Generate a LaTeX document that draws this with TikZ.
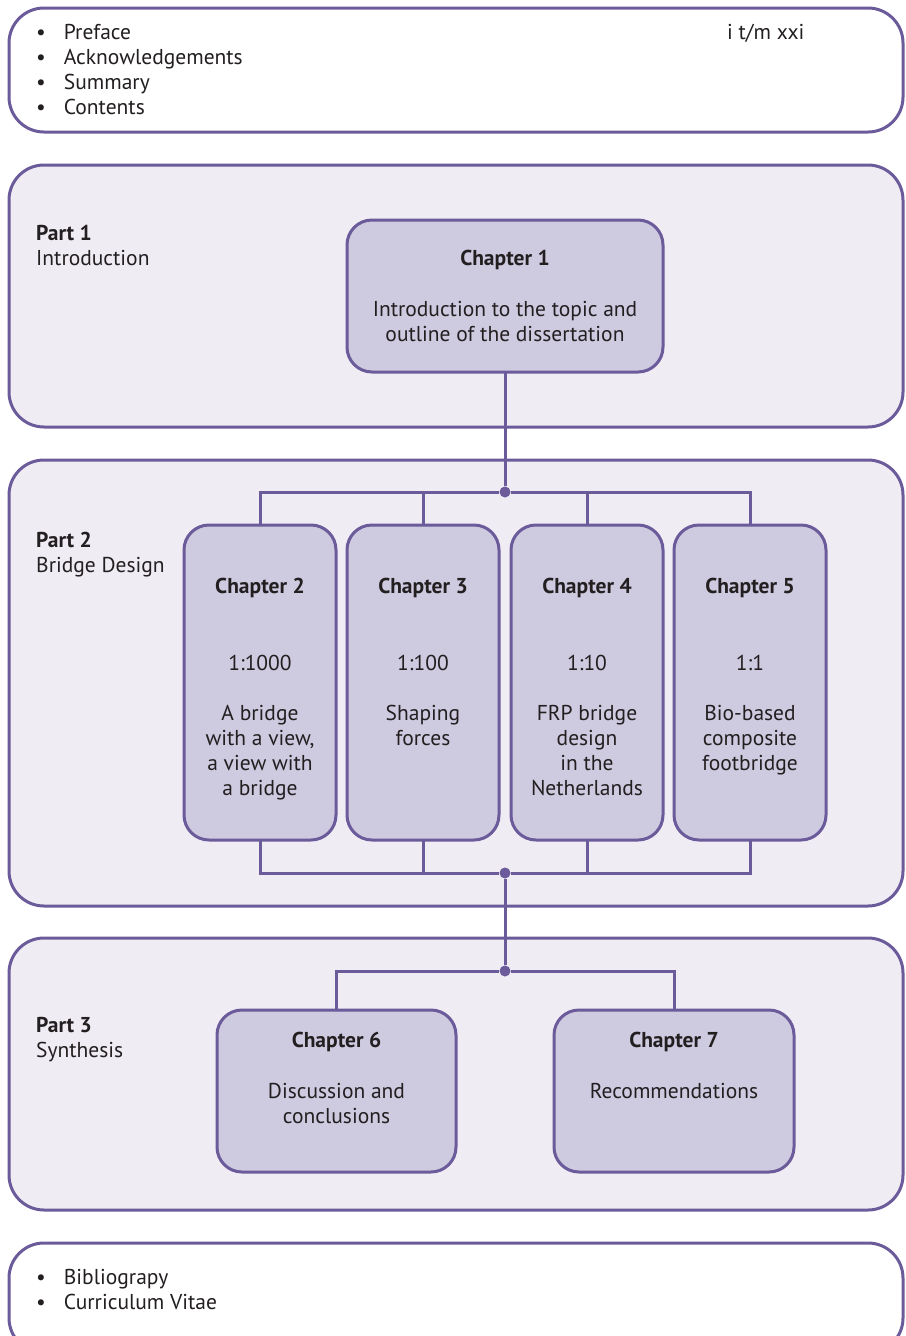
\documentclass[tikz,border=0pt]{standalone}
\usepackage{fontspec}
\setmainfont{PT Sans}
\usetikzlibrary{positioning}
\definecolor{linepurple}{HTML}{6B5B9A}
\definecolor{partfill}{HTML}{EFECF4}
\definecolor{chapfill}{HTML}{CECAE0}
\definecolor{textgray}{HTML}{231F20}
\tikzset{
  part box/.style={rectangle, draw=linepurple, fill=partfill, line width=3pt, rounded corners=35pt, minimum width=894pt, outer sep=0pt, anchor=north west},
  list box/.style={part box, fill=white},
  chapter box/.style={rectangle, draw=linepurple, fill=chapfill, line width=3pt, rounded corners=25pt, outer sep=0pt, anchor=north west},
  link/.style={draw=linepurple, line width=3pt},
  junction/.style={circle, fill=linepurple, minimum size=11pt, inner sep=0pt},
  chapter title/.style={font=\fontsize{21.5}{25}\selectfont\bfseries, text=textgray},
  body text/.style={text=textgray, align=center, inner sep=0pt, anchor=north},
  side text/.style={text=textgray, align=left, inner sep=0pt}
}

\begin{document}
\begin{tikzpicture}[x=1pt, y=-1pt, font=\fontsize{21.5}{25}\selectfont]
    \useasboundingbox (0,0) rectangle (905,1336);
    % The boxes of the parts
    \node[list box, minimum height=124pt] (front) at (9,8) {};
    \node[part box, minimum height=262pt] (part1) at (9,165) {};
    \node[part box, minimum height=446pt] (part2) at (9,460) {};
    \node[part box, minimum height=272pt] (part3) at (9,938) {};
    \node[list box, minimum height=110pt] (back) at (9,1243) {};

    % Front and back matter
    \node[side text, anchor=north west] (front list) at (36,22) {%
      \begin{tabular}{@{}l@{\hspace{18pt}}l@{}}
        \textbullet & Preface\\
        \textbullet & Acknowledgements\\
        \textbullet & Summary\\
        \textbullet & Contents
      \end{tabular}};
    \node[side text, anchor=base west] (page range) at (727,39) {i t/m xxi};
    \node[side text, anchor=north west] (back list) at (36,1267) {%
      \begin{tabular}{@{}l@{\hspace{18pt}}l@{}}
        \textbullet & Bibliograpy\\
        \textbullet & Curriculum Vitae
      \end{tabular}};

    % Part labels
    \node[side text, anchor=north west] (part1 label) at (36,225) {\textbf{Part 1}\\Introduction};
    \node[side text, anchor=north west] (part2 label) at (36,532) {\textbf{Part 2}\\Bridge Design};
    \node[side text, anchor=north west] (part3 label) at (36,1017) {\textbf{Part 3}\\Synthesis};

    % Junctions
    \node[junction] (j1) at (505,492) {};
    \node[junction] (j2) at (505,873) {};
    \node[junction] (j3) at (505,971) {};

    % Chapters
    \node[chapter box, minimum width=316pt, minimum height=152pt] (ch1) at (347,220) {};
    \node[chapter box, minimum width=152pt, minimum height=315pt] (ch2) at (184,525) {};
    \node[chapter box, minimum width=152pt, minimum height=315pt] (ch3) at (347,525) {};
    \node[chapter box, minimum width=152pt, minimum height=315pt] (ch4) at (511,525) {};
    \node[chapter box, minimum width=152pt, minimum height=315pt] (ch5) at (674,525) {};
    \node[chapter box, minimum width=239pt, minimum height=162pt] (ch6) at (217,1010) {};
    \node[chapter box, minimum width=240pt, minimum height=162pt] (ch7) at (554,1010) {};

    % Connections between the chapters
    \path[link]
    (ch1.south) -- (j1)
    (ch2.north) |- (j1)
    (ch3.north) |- (j1)
    (ch4.north) |- (j1)
    (ch5.north) |- (j1)
    (ch2.south) |- (j2)
    (ch3.south) |- (j2)
    (ch4.south) |- (j2)
    (ch5.south) |- (j2)
    (j2) -- (j3)
    (ch6.north) |- (j3)
    (ch7.north) |- (j3);

    % Texts of the chapters
    \node[chapter title] (ch1 title) at (ch1.north |- 0,260) {Chapter 1};
    \node[body text] (ch1 text) at (ch1.north |- 0,301) {Introduction to the topic and\\outline of the dissertation};
    \node[chapter title] (ch2 title) at (ch2.north |- 0,588) {Chapter 2};
    \node[body text] (ch2 scale) at (ch2.north |- 0,655) {1:1000};
    \node[body text] (ch2 text) at (ch2.north |- 0,705) {A bridge\\with a view,\\a view with\\a bridge};
    \node[chapter title] (ch3 title) at (ch3.north |- 0,588) {Chapter 3};
    \node[body text] (ch3 scale) at (ch3.north |- 0,655) {1:100};
    \node[body text] (ch3 text) at (ch3.north |- 0,705) {Shaping\\forces};
    \node[chapter title] (ch4 title) at (ch4.north |- 0,588) {Chapter 4};
    \node[body text] (ch4 scale) at (ch4.north |- 0,655) {1:10};
    \node[body text] (ch4 text) at (ch4.north |- 0,705) {FRP bridge\\design\\in the\\Netherlands};
    \node[chapter title] (ch5 title) at (ch5.north |- 0,588) {Chapter 5};
    \node[body text] (ch5 scale) at (ch5.north |- 0,655) {1:1};
    \node[body text] (ch5 text) at (ch5.north |- 0,705) {Bio-based\\composite\\footbridge};
    \node[chapter title] (ch6 title) at (ch6.north |- 0,1042) {Chapter 6};
    \node[body text] (ch6 text) at (ch6.north |- 0,1083) {Discussion and\\conclusions};
    \node[chapter title] (ch7 title) at (ch7.north |- 0,1042) {Chapter 7};
    \node[body text] (ch7 text) at (ch7.north |- 0,1083) {Recommendations};
\end{tikzpicture}
\end{document}
